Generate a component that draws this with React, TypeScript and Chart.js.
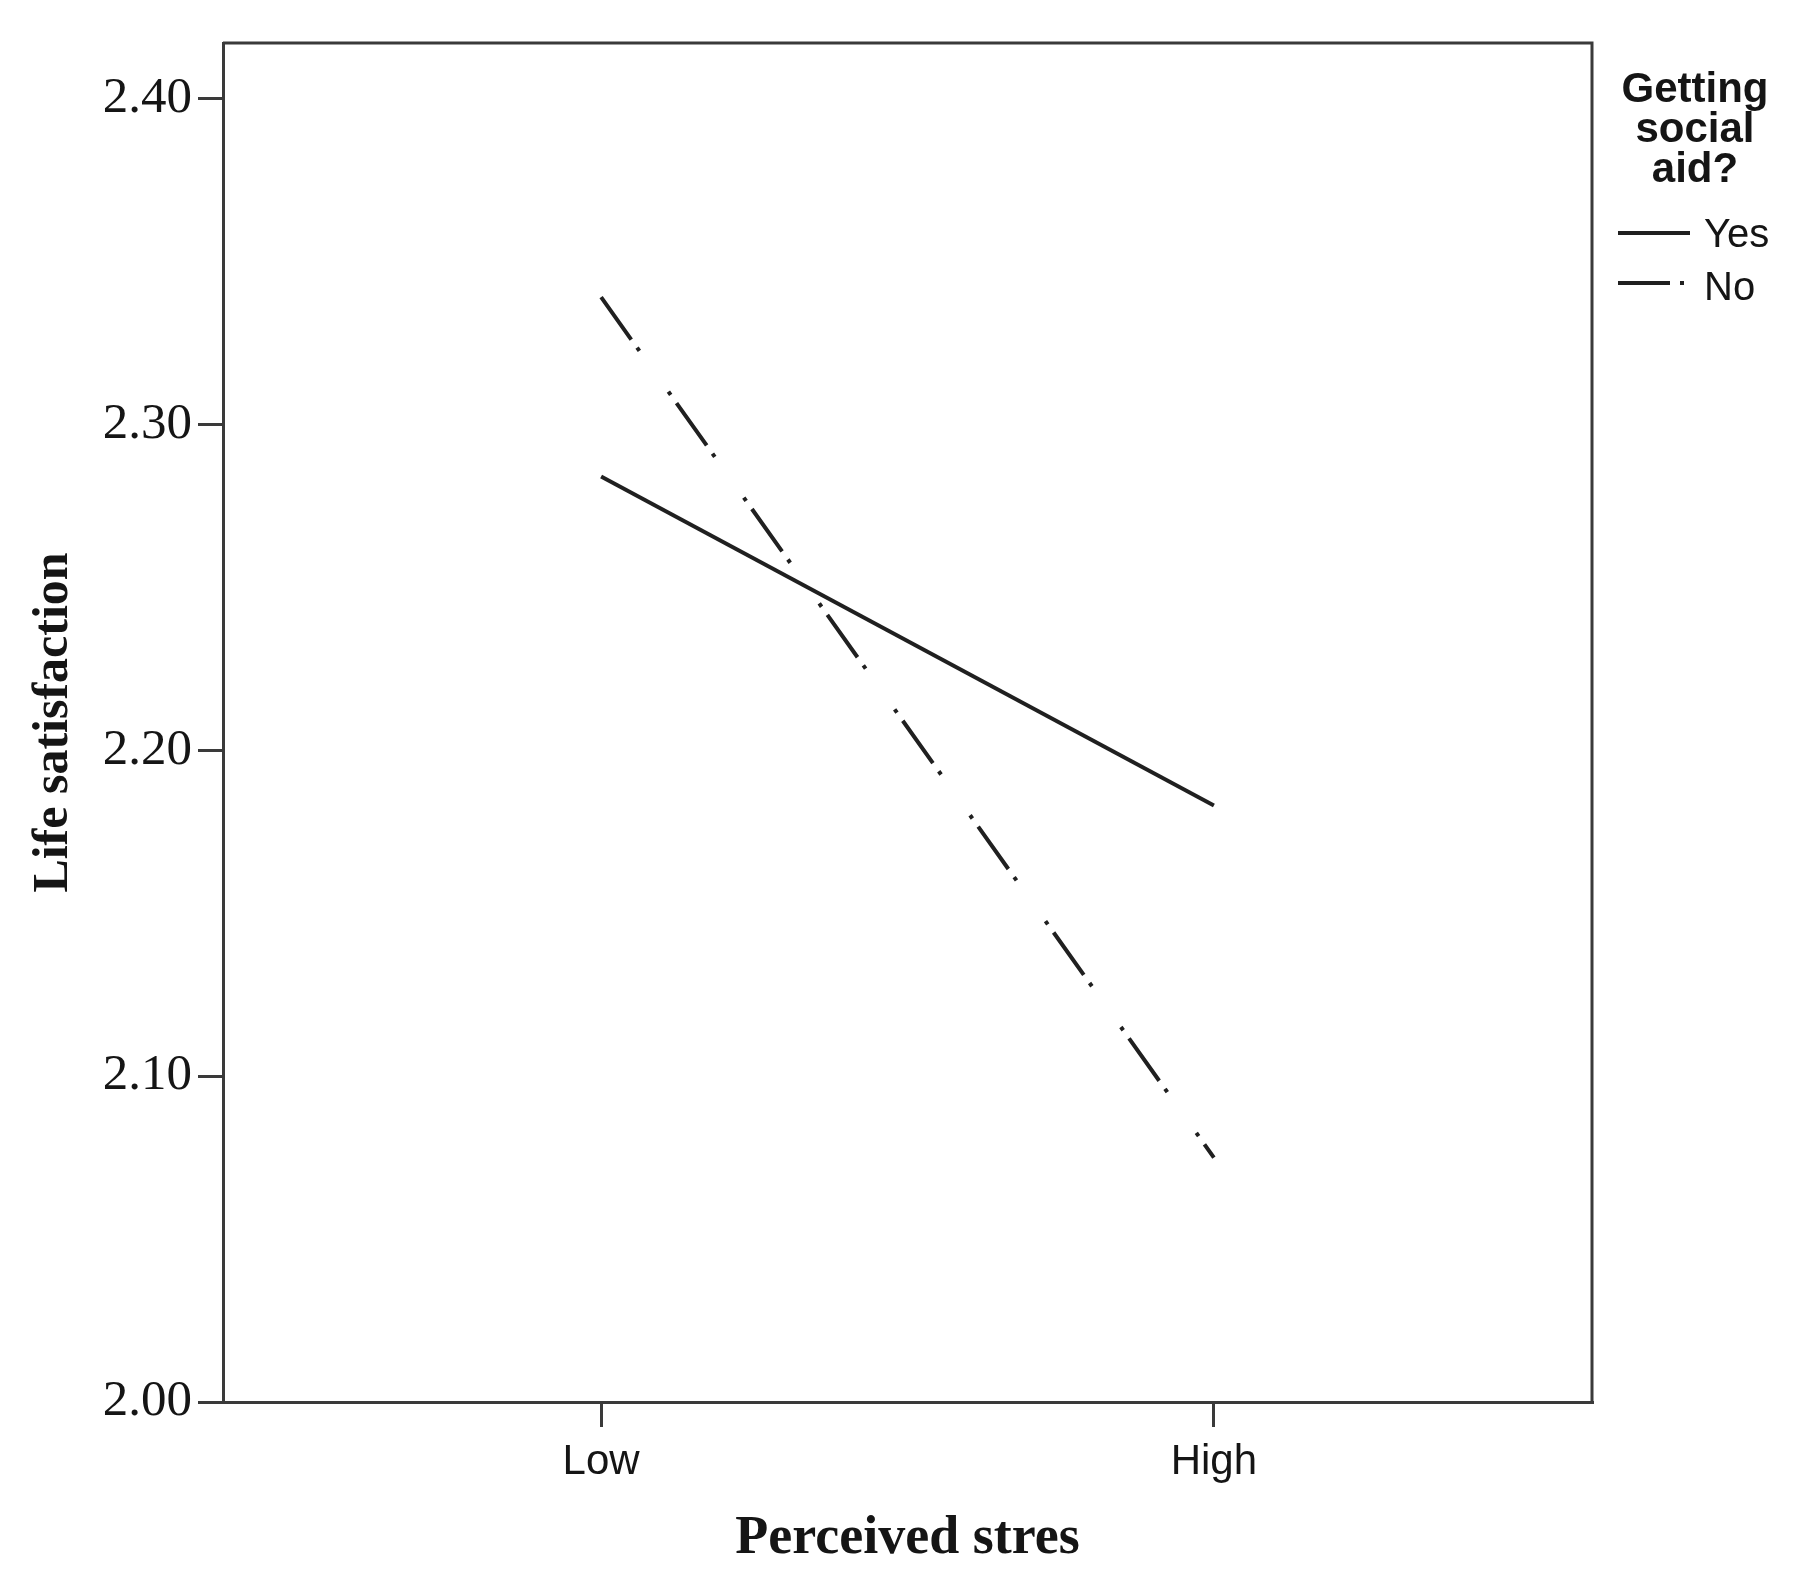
import React, { useEffect, useRef } from 'react';
import { Chart, registerables } from 'chart.js';

Chart.register(...registerables);

// ---- data ----
const categories = ['Low', 'High'];
const yesValues = [2.284, 2.183];
const noValues = [2.339, 2.075];
const yTicks = [2.0, 2.1, 2.2, 2.3, 2.4];
const seriesNames = ['Yes', 'No'];
const legendTitle = ['Getting', 'social', 'aid?'];
const xTitle = 'Perceived stres';
const yTitle = 'Life satisfaction';

// ---- styles ----
const W = 1812;
const H = 1588;
const AXIS = '#3a3a3a';
const INK = '#151515';
const LINE = '#202020';
const NO_DASH = [52, 10, 4, 50, 4, 10];
const SANS = '"Liberation Sans", Arial, sans-serif';
const SERIF = '"Liberation Serif", "Times New Roman", serif';

const framePlugin = {
  id: 'frame',
  afterDraw(chart: any) {
    const { ctx, chartArea: a } = chart;
    ctx.save();
    ctx.strokeStyle = AXIS;
    ctx.lineWidth = 3;
    ctx.beginPath();
    ctx.moveTo(a.left, a.top);
    ctx.lineTo(a.right, a.top);
    ctx.lineTo(a.right, a.bottom);
    ctx.stroke();
    ctx.restore();
  },
};

const legendPlugin = {
  id: 'spssLegend',
  afterDraw(chart: any) {
    const ctx = chart.ctx;
    const cx = 1695;
    ctx.save();
    ctx.fillStyle = INK;
    ctx.font = `bold 42px ${SANS}`;
    ctx.textAlign = 'center';
    ctx.textBaseline = 'alphabetic';
    legendTitle.forEach((t, i) => ctx.fillText(t, cx, 102 + i * 40));
    chart.data.datasets.forEach((ds: any, i: number) => {
      const y = 233 + i * 50;
      ctx.strokeStyle = ds.borderColor;
      ctx.lineWidth = ds.borderWidth;
      ctx.lineCap = 'butt';
      ctx.setLineDash(ds.borderDash || []);
      ctx.beginPath();
      ctx.moveTo(1618, y);
      ctx.lineTo(i === 0 ? 1690 : 1686, y);
      ctx.stroke();
      ctx.setLineDash([]);
      ctx.font = `40px ${SANS}`;
      ctx.textAlign = 'left';
      ctx.textBaseline = 'middle';
      ctx.fillText(ds.label, 1704, y + 3 + i * 3);
    });
    ctx.restore();
  },
};

export default function App() {
  const ref = useRef<HTMLCanvasElement | null>(null);

  useEffect(() => {
    if (!ref.current) return;
    const gridOpts = {
      drawOnChartArea: false,
      drawTicks: true,
      tickLength: 25,
      tickWidth: 3,
      tickColor: AXIS,
      color: AXIS,
      lineWidth: 3,
    };
    const chart = new Chart(ref.current, {
      type: 'line',
      data: {
        datasets: [
          {
            label: seriesNames[0],
            data: categories.map((_, i) => ({ x: i, y: yesValues[i] })),
            borderColor: LINE,
            backgroundColor: LINE,
            borderWidth: 4,
            pointRadius: 0,
            tension: 0,
            borderDash: [],
          },
          {
            label: seriesNames[1],
            data: categories.map((_, i) => ({ x: i, y: noValues[i] })),
            borderColor: LINE,
            backgroundColor: LINE,
            borderWidth: 4,
            pointRadius: 0,
            tension: 0,
            borderDash: NO_DASH,
            borderCapStyle: 'butt',
          },
        ],
      },
      options: {
        animation: false,
        responsive: false,
        layout: { padding: { left: 0, top: 43, right: 220, bottom: 0 } },
        plugins: { legend: { display: false }, tooltip: { enabled: false } },
        scales: {
          x: {
            type: 'linear',
            min: -0.617,
            max: 1.617,
            afterBuildTicks: (s: any) => {
              s.ticks = categories.map((_, i) => ({ value: i }));
            },
            afterFit: (s: any) => {
              s.height = H - 1402;
            },
            ticks: {
              callback: (v: any) => categories[v] ?? '',
              font: { family: SANS, size: 42 },
              color: INK,
              padding: 10,
              autoSkip: false,
              maxRotation: 0,
            },
            grid: gridOpts,
            border: { display: true, color: AXIS, width: 3 },
            title: {
              display: true,
              text: xTitle,
              font: { family: SERIF, size: 54, weight: 'bold' },
              color: INK,
              padding: { top: 0, bottom: 17 },
            },
          },
          y: {
            min: 2.0,
            max: 2.417,
            afterBuildTicks: (s: any) => {
              s.ticks = yTicks.map((v) => ({ value: v }));
            },
            afterFit: (s: any) => {
              s.width = 223;
            },
            ticks: {
              callback: (v: any) => Number(v).toFixed(2),
              font: { family: SERIF, size: 51 },
              color: INK,
              padding: 6,
            },
            grid: gridOpts,
            border: { display: true, color: AXIS, width: 3 },
            title: {
              display: true,
              text: yTitle,
              font: { family: SERIF, size: 50, weight: 'bold' },
              color: INK,
              padding: { top: 24, bottom: 0 },
            },
          },
        },
      } as any,
      plugins: [framePlugin, legendPlugin],
    } as any);
    return () => chart.destroy();
  }, []);

  return (
    <div style={{ position: 'absolute', left: 0, top: 0, width: W, height: H, background: '#fff' }}>
      <canvas ref={ref} width={W} height={H} />
    </div>
  );
}
